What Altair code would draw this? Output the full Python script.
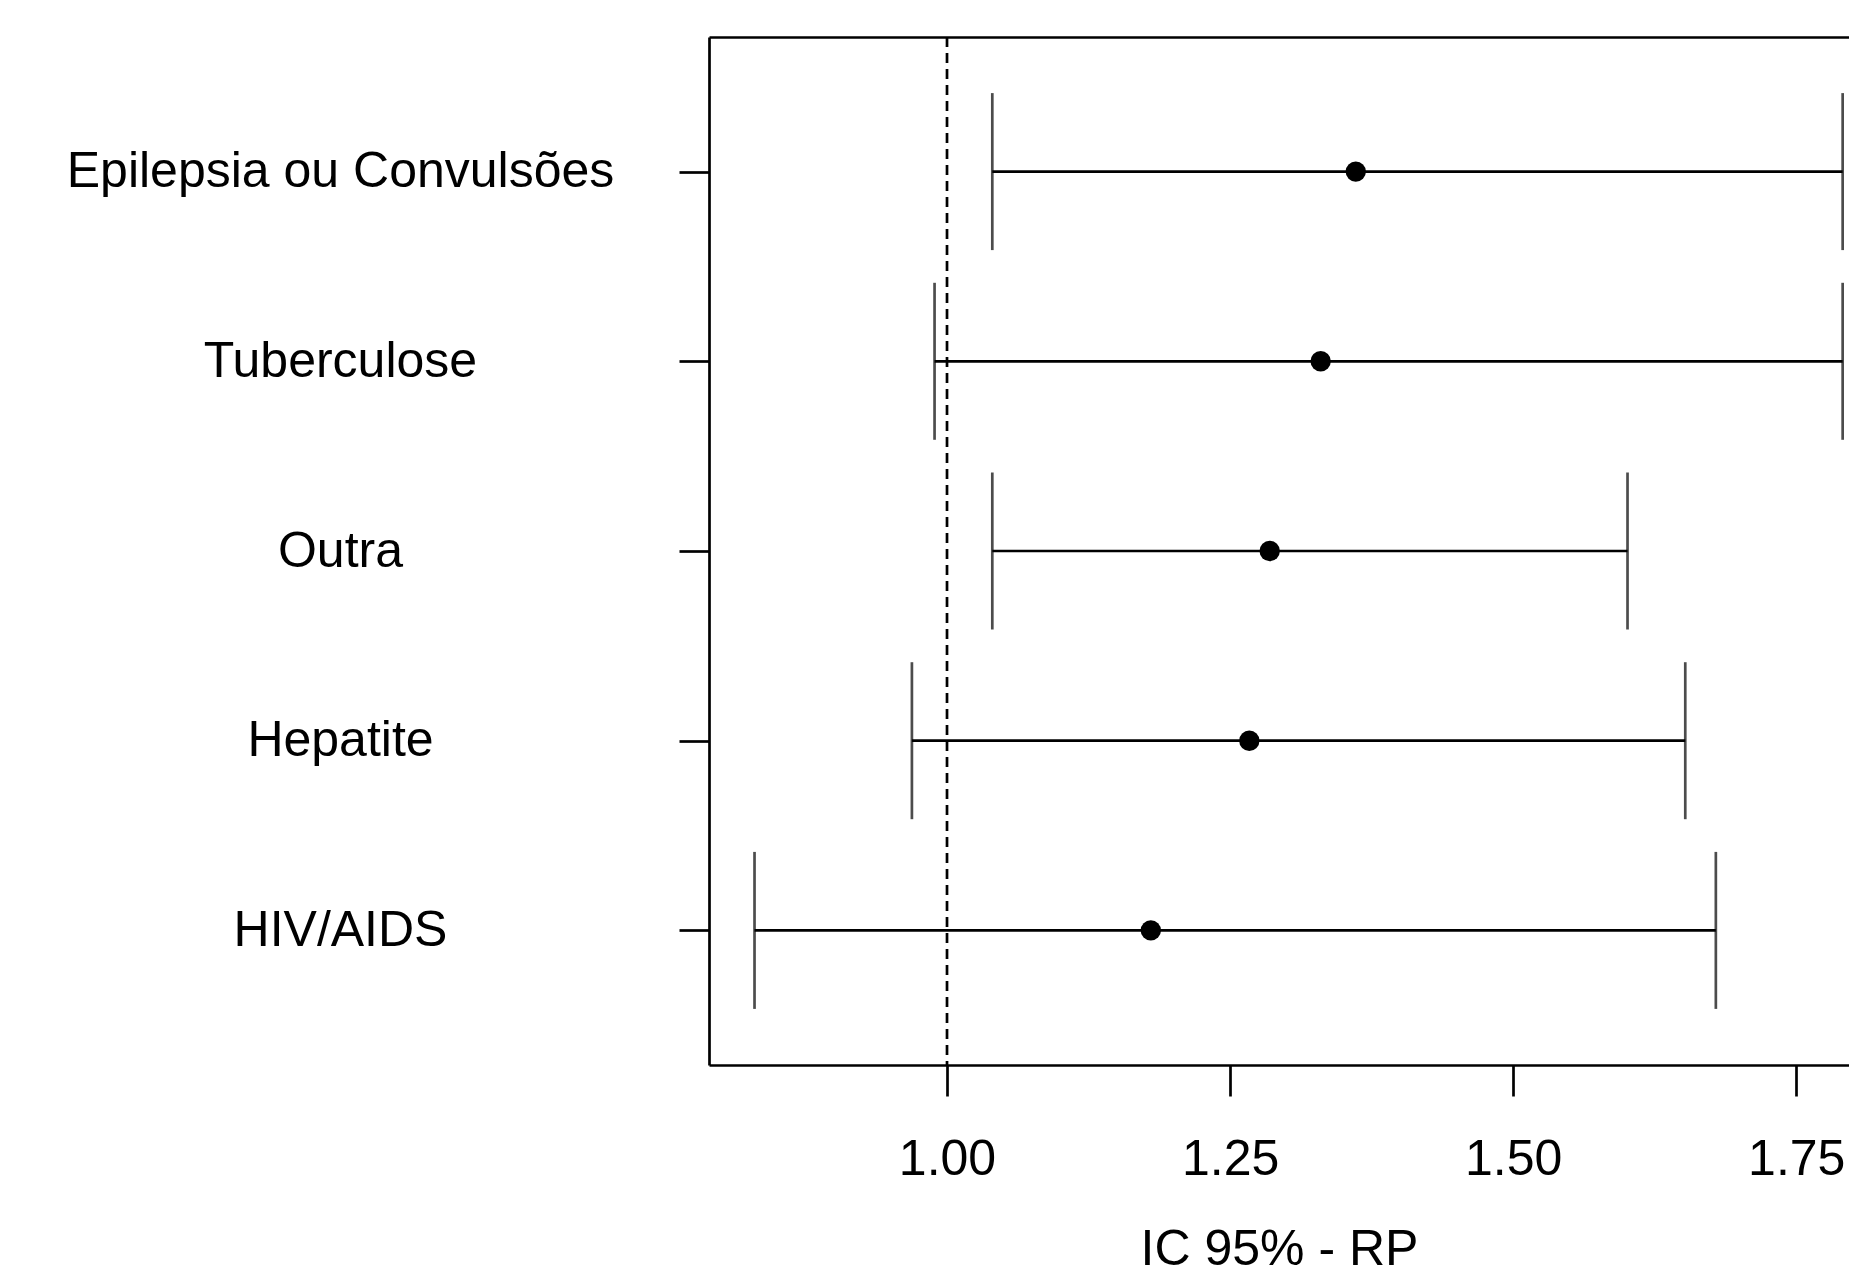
import altair as alt
import pandas as pd

# Data
categories = ["Epilepsia ou Convulsões", "Tuberculose", "Outra", "Hepatite", "HIV/AIDS"]
rp = [1.361, 1.330, 1.285, 1.267, 1.180]
lower = [1.040, 0.989, 1.040, 0.969, 0.830]
upper = [1.791, 1.791, 1.601, 1.652, 1.679]
x_ticks = [1.00, 1.25, 1.50, 1.75]
ref_value = [1.0]

df = pd.DataFrame({"cat": categories, "rp": rp, "lower": lower, "upper": upper})
ref_df = pd.DataFrame({"ref": ref_value})

FONT = "Liberation Sans"
LW = 2.7
W, H = 1140, 1028

xscale = alt.Scale(domain=[0.7898, 1.7966], nice=False, zero=False)
yscale = alt.Scale(type="point", padding=0.7095, domain=categories)

x_axis = alt.Axis(
    values=x_ticks, format=".2f", tickSize=31, labelPadding=38,
    title="IC 95% - RP", titlePadding=40, grid=False,
)
y_axis = alt.Axis(
    title=None, tickSize=30, labelAlign="center", labelBaseline="middle",
    labelPadding=339, labelLimit=0, grid=False,
)

def ycat():
    return alt.Y("cat:N", scale=yscale, axis=y_axis, sort=categories)

base = alt.Chart(df)

ci = base.mark_rule(color="black", strokeWidth=LW).encode(
    x=alt.X("lower:Q", scale=xscale, axis=x_axis),
    x2="upper:Q",
    y=ycat(),
)

caps = base.transform_fold(["lower", "upper"], as_=["bound", "val"]).mark_tick(
    color="black", thickness=LW, size=157, orient="vertical"
).encode(
    x=alt.X("val:Q", scale=xscale, axis=None),
    y=ycat(),
)

pts = base.mark_point(filled=True, shape="circle", size=415, color="black", opacity=1).encode(
    x=alt.X("rp:Q", scale=xscale, axis=None),
    y=ycat(),
)

ref = alt.Chart(ref_df).mark_rule(color="black", strokeWidth=LW, strokeDash=[10, 6]).encode(
    x=alt.X("ref:Q", scale=xscale,
            axis=alt.Axis(orient="top", labels=False, ticks=False, title=None,
                          domain=True, grid=False)),
)

chart = alt.layer(ci, caps, pts, ref).resolve_axis(x="independent").properties(
    width=W, height=H,
    autosize=alt.AutoSizeParams(type="none"),
    padding={"left": 701, "top": 29, "right": 0, "bottom": 210},
    background="white",
).configure_view(stroke=None).configure_axis(
    domainColor="black", domainWidth=LW, tickColor="black", tickWidth=LW,
    labelFont=FONT, labelFontSize=50, labelColor="black",
    titleFont=FONT, titleFontSize=50, titleFontWeight="normal", titleColor="black",
)

chart.save("out.html", embed_options={"renderer": "svg", "actions": False})
